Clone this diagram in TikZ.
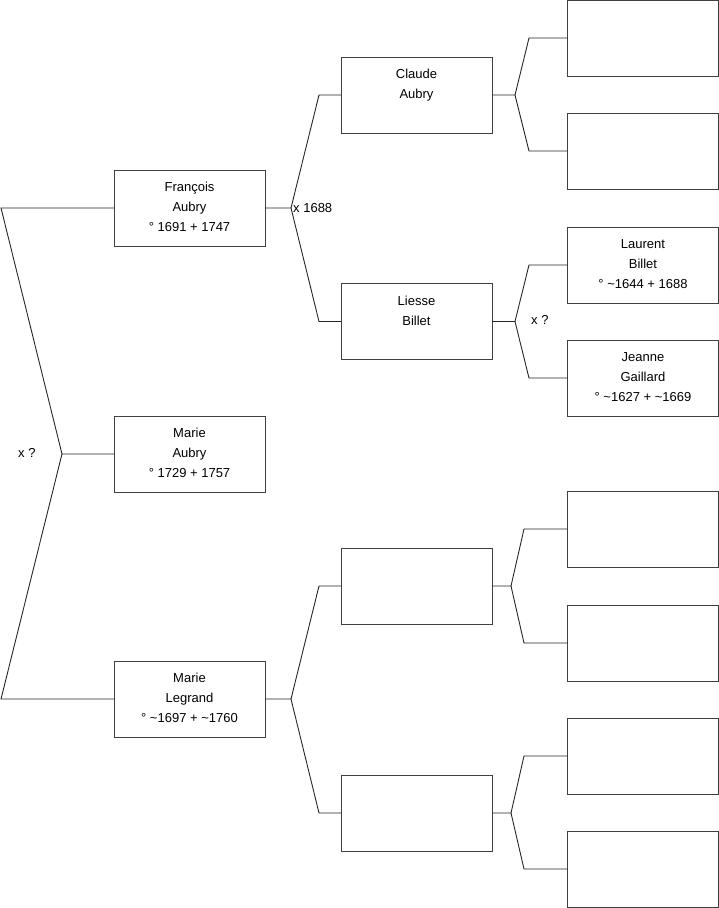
\documentclass[tikz,border=0pt]{standalone}
\usepackage{fontspec}
\setmainfont{Liberation Sans}
\begin{document}
\begin{tikzpicture}[x=1pt,y=-1pt,
  person/.style={draw=black!75,line width=0.9pt,rectangle,minimum width=151pt,minimum height=76pt,
    inner sep=0pt,outer sep=0pt,align=center,text depth=2.2pt,font=\fontsize{13}{20}\selectfont},
  link/.style={draw=black!85,line width=0.9pt},
  lbl/.style={anchor=west,inner sep=0pt,font=\fontsize{13}{15}\selectfont}]
\useasboundingbox (0,0) rectangle (719,908);
% column 1
\node[person] (F) at (189.5,208) {François\\Aubry\\° 1691 + 1747};
\node[person] (MA) at (189.5,454) {Marie\\Aubry\\° 1729 + 1757};
\node[person] (ML) at (189.5,699) {Marie\\Legrand\\° \textasciitilde1697 + \textasciitilde1760};
% column 2
\node[person] (C) at (416.5,95) {Claude\\Aubry\\\mbox{}};
\node[person] (L) at (416.5,321.5) {Liesse\\Billet\\\mbox{}};
\node[person] (E1) at (416.5,586) {};
\node[person] (E2) at (416.5,813) {};
% column 3
\node[person] (G1) at (643,38) {};
\node[person] (G2) at (643,151) {};
\node[person] (LB) at (643,265) {Laurent\\Billet\\° \textasciitilde1644 + 1688};
\node[person] (JG) at (643,378) {Jeanne\\Gaillard\\° \textasciitilde1627 + \textasciitilde1669};
\node[person] (G5) at (643,529) {};
\node[person] (G6) at (643,643) {};
\node[person] (G7) at (643,756) {};
\node[person] (G8) at (643,869) {};
% junction coordinates
\coordinate (jMA) at (62,454);
\coordinate (tMA) at (1,208);
\coordinate (bMA) at (1,699);
\coordinate (jF) at (291,208);
\coordinate (tF) at (319,95);
\coordinate (bF) at (319,321.5);
\coordinate (jML) at (291,699);
\coordinate (tML) at (319,586);
\coordinate (bML) at (319,813);
\coordinate (jC) at (515,95);
\coordinate (tC) at (529,38);
\coordinate (bC) at (529,151);
\coordinate (jL) at (515,321.5);
\coordinate (tL) at (529,265);
\coordinate (bL) at (529,378);
\coordinate (jE1) at (511,586);
\coordinate (tE1) at (524,529);
\coordinate (bE1) at (524,643);
\coordinate (jE2) at (511,813);
\coordinate (tE2) at (524,756);
\coordinate (bE2) at (524,869);
% connectors
\draw[link] (MA.west) -- (jMA) -- (tMA) -- (F.west);
\draw[link] (jMA) -- (bMA) -- (ML.west);
\draw[link] (F.east) -- (jF) -- (tF) -- (C.west);
\draw[link] (jF) -- (bF) -- (L.west);
\draw[link] (ML.east) -- (jML) -- (tML) -- (E1.west);
\draw[link] (jML) -- (bML) -- (E2.west);
\draw[link] (C.east) -- (jC) -- (tC) -- (G1.west);
\draw[link] (jC) -- (bC) -- (G2.west);
\draw[link] (L.east) -- (jL) -- (tL) -- (LB.west);
\draw[link] (jL) -- (bL) -- (JG.west);
\draw[link] (E1.east) -- (jE1) -- (tE1) -- (G5.west);
\draw[link] (jE1) -- (bE1) -- (G6.west);
\draw[link] (E2.east) -- (jE2) -- (tE2) -- (G7.west);
\draw[link] (jE2) -- (bE2) -- (G8.west);
% marriage labels
\node[lbl] (xMA) at (18,453) {x ?};
\node[lbl] (xF) at (293,208) {x 1688};
\node[lbl] (xL) at (531,320) {x ?};
\end{tikzpicture}
\end{document}
